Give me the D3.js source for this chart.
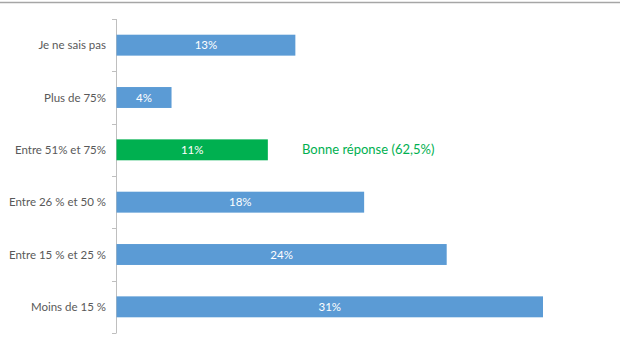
<!DOCTYPE html>
<html>
<head>
<meta charset="utf-8">
<script src="https://cdn.jsdelivr.net/npm/d3@7"></script>
<style>
  html, body { margin: 0; padding: 0; background: #fff; }
  svg { display: block; }
</style>
</head>
<body>
<svg id="chart" width="620" height="350"></svg>
<script>
// Answer categories, top to bottom
const categories = [
  "Je ne sais pas",
  "Plus de 75%",
  "Entre 51% et 75%",
  "Entre 26 % et 50 %",
  "Entre 15 % et 25 %",
  "Moins de 15 %"
];
// Share of respondents (%)
const values = [13, 4, 11, 18, 24, 31];
// Index of the correct answer
const correctIndex = 2;
const correctNote = "Bonne réponse (62,5%)";

const svg = d3.select("#chart");
const font = "Lato, 'Open Sans', sans-serif";

// Thin rule along the top
svg.append("line")
  .attr("x1", 0).attr("x2", 620)
  .attr("y1", 2.5).attr("y2", 2.5)
  .attr("stroke", "#a6a6a6").attr("stroke-width", 1.5);

const x = d3.scaleLinear().domain([0, 31]).range([116.5, 543]);
const y = d3.scaleBand().domain(categories).range([19, 333]).paddingInner(0.6).paddingOuter(0.3);

// Category axis with ticks between bands
const axisG = svg.append("g");
axisG.append("line")
  .attr("x1", 116.5).attr("x2", 116.5)
  .attr("y1", 19).attr("y2", 333)
  .attr("stroke", "#bfbfbf").attr("stroke-width", 1);
const step = y.step();
const bounds = d3.range(categories.length + 1).map(i => 19 + i * (314 / categories.length));
axisG.selectAll("line.tick").data(bounds).join("line")
  .attr("class", "tick")
  .attr("x1", 112).attr("x2", 116.5)
  .attr("y1", d => Math.round(d) + 0.5).attr("y2", d => Math.round(d) + 0.5)
  .attr("stroke", "#bfbfbf").attr("stroke-width", 1);

axisG.selectAll("text").data(categories).join("text")
  .attr("x", 106)
  .attr("y", d => y(d) + y.bandwidth() / 2)
  .attr("dy", "0.35em")
  .attr("text-anchor", "end")
  .attr("font-family", font)
  .attr("font-size", 11.5)
  .attr("fill", "#595959")
  .text(d => d);

// Bars
const rows = categories.map((c, i) => ({ c, v: values[i], ok: i === correctIndex }));
svg.selectAll("rect.bar").data(rows).join("rect")
  .attr("class", "bar")
  .attr("x", x(0))
  .attr("y", d => y(d.c))
  .attr("width", d => x(d.v) - x(0))
  .attr("height", y.bandwidth())
  .attr("fill", d => d.ok ? "#00b050" : "#5b9bd5");

// Value labels inside bars
svg.selectAll("text.val").data(rows).join("text")
  .attr("class", "val")
  .attr("x", d => (x(0) + x(d.v)) / 2)
  .attr("y", d => y(d.c) + y.bandwidth() / 2)
  .attr("dy", "0.35em")
  .attr("text-anchor", "middle")
  .attr("font-family", font)
  .attr("font-size", 11.5)
  .attr("fill", "#ffffff")
  .text(d => d.v + "%");

// Note next to the correct answer
svg.append("text")
  .attr("x", 302)
  .attr("y", y(categories[correctIndex]) + y.bandwidth() / 2)
  .attr("dy", "0.35em")
  .attr("font-family", font)
  .attr("font-size", 13)
  .attr("fill", "#00b050")
  .text(correctNote);
</script>
</body>
</html>
